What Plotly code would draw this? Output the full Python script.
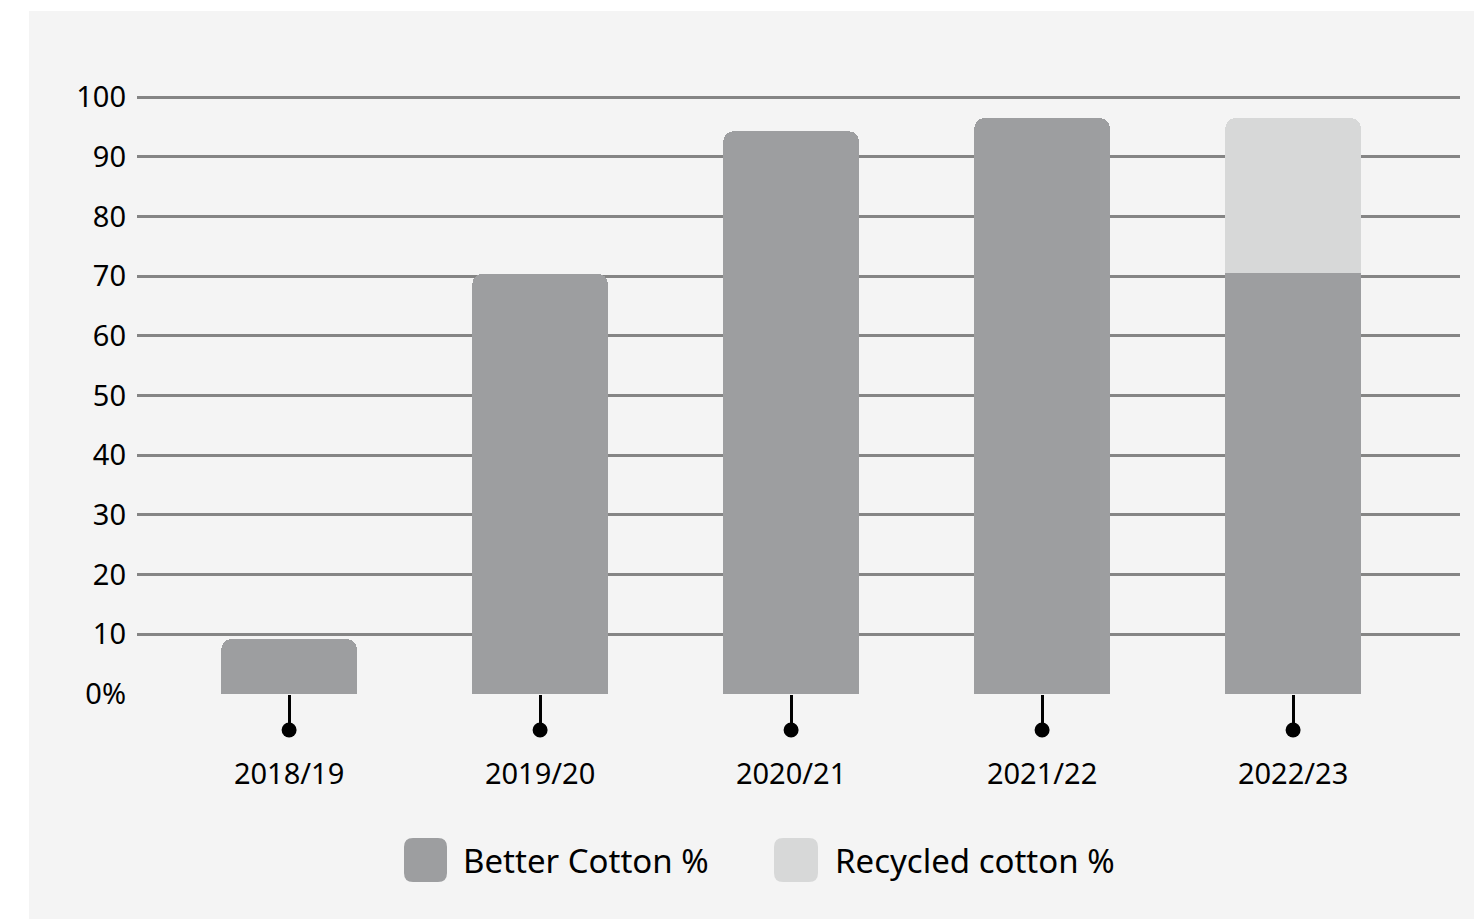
import plotly.graph_objects as go

categories = ["2018/19", "2019/20", "2020/21", "2021/22", "2022/23"]
better_cotton = [9.2, 70.4, 94.3, 96.5, 70.5]
recycled_cotton = [0, 0, 0, 0, 26.0]
y_tickvals = [0, 10, 20, 30, 40, 50, 60, 70, 80, 90, 100]
y_ticktext = ["0%", "10", "20", "30", "40", "50", "60", "70", "80", "90", "100"]
legend_names = ["Better Cotton %", "Recycled cotton %"]

DARK = "#9d9ea0"
LIGHT = "#d7d8d8"
BG = "#f4f4f4"
FONT = "Noto Sans"

W, H = 1474, 919
L, R, T, B = 137, 14, 96, 225
pw, ph = W - L - R, H - T - B


def px_x(px):
    return (px - L) / pw


def px_y(py):
    return (H - B - py) / ph


xs = list(range(len(categories)))

fig = go.Figure()
fig.add_trace(go.Bar(x=xs, y=better_cotton, name=legend_names[0],
                     marker=dict(color=DARK, line=dict(width=0)), width=0.54,
                     showlegend=False))
fig.add_trace(go.Bar(x=xs, y=recycled_cotton, name=legend_names[1],
                     marker=dict(color=LIGHT, line=dict(width=0)), width=0.54,
                     showlegend=False))

shapes = [
    dict(type="rect", xref="paper", yref="paper",
         x0=px_x(29), x1=px_x(W + 5), y0=px_y(H + 5), y1=px_y(11),
         fillcolor=BG, line=dict(width=0), layer="below"),
]

# dots at the end of each x tick stem
for xv in xs:
    shapes.append(dict(type="circle", xref="x", yref="paper",
                       xsizemode="pixel", ysizemode="pixel",
                       xanchor=xv, yanchor=0,
                       x0=-7.5, x1=7.5, y0=-43.5, y1=-28.5,
                       fillcolor="black", line=dict(width=0), layer="above"))

annotations = []
legend_items = [(404, 447, 461, DARK), (774, 818, 833, LIGHT)]
for (sx0, sx1, tx, col), name in zip(legend_items, legend_names):
    x0p, x1p = px_x(sx0), px_x(sx1)
    y0p, y1p = px_y(882), px_y(838)
    rx = 9 / pw
    ry = 9 / ph
    path = (f"M {x0p+rx},{y0p} L {x1p-rx},{y0p} Q {x1p},{y0p} {x1p},{y0p+ry} "
            f"L {x1p},{y1p-ry} Q {x1p},{y1p} {x1p-rx},{y1p} L {x0p+rx},{y1p} "
            f"Q {x0p},{y1p} {x0p},{y1p-ry} L {x0p},{y0p+ry} Q {x0p},{y0p} {x0p+rx},{y0p} Z")
    shapes.append(dict(type="path", xref="paper", yref="paper", path=path,
                       fillcolor=col, line=dict(width=0), layer="above"))
    annotations.append(dict(xref="paper", yref="paper", x=px_x(tx), y=px_y(860),
                            xanchor="left", yanchor="middle", showarrow=False,
                            text=name, font=dict(family=FONT, size=33, color="black")))

fig.update_layout(
    width=W, height=H,
    margin=dict(l=L, r=R, t=T, b=B, pad=0),
    paper_bgcolor="white",
    plot_bgcolor="rgba(0,0,0,0)",
    barmode="stack",
    barcornerradius=10,
    font=dict(family=FONT, size=29, color="black"),
    shapes=shapes,
    annotations=annotations,
    showlegend=False,
    xaxis=dict(
        range=[-0.606, 4.665],
        tickvals=xs, ticktext=categories,
        ticks="outside", ticklen=30, tickwidth=3, tickcolor="black",
        showgrid=False, zeroline=False, showline=False,
        tickfont=dict(family=FONT, size=29, color="black"),
        ticklabelstandoff=24,
        fixedrange=True,
    ),
    yaxis=dict(
        range=[0, 100.2],
        tickvals=y_tickvals, ticktext=y_ticktext,
        showgrid=True, gridcolor="#858585", gridwidth=2.5,
        zeroline=False, showline=False, ticks="",
        tickfont=dict(family=FONT, size=29, color="black"),
        ticklabelstandoff=10,
        fixedrange=True,
    ),
)

fig.write_html("out.html", config={"displayModeBar": False},
               post_script="document.body.style.margin='0';")
